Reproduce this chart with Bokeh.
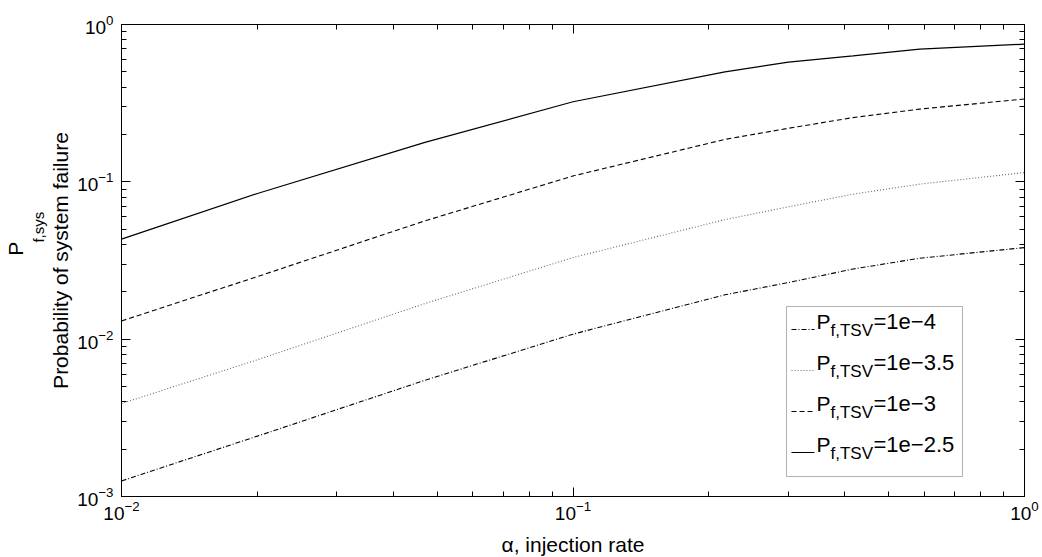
import math
from bokeh.plotting import figure
from bokeh.models import (FixedTicker, LogAxis, LinearAxis, Label, Range1d, LogTickFormatter,
                          BoxAnnotation, Arrow)
from bokeh.embed import file_html
from bokeh.resources import INLINE

# ---------------- data ----------------
alpha = [0.01, 0.02, 0.047, 0.1, 0.217, 0.30, 0.417, 0.586, 1.0]
pf_25 = [0.0432, 0.0843, 0.178, 0.323, 0.500, 0.577, 0.632, 0.698, 0.750]
pf_30 = [0.01306, 0.0250, 0.0565, 0.109, 0.186, 0.219, 0.256, 0.290, 0.336]
pf_35 = [0.0039, 0.0074, 0.01684, 0.0330, 0.0575, 0.0694, 0.0835, 0.0967, 0.1146]
pf_40 = [0.001256, 0.00242, 0.00548, 0.01076, 0.01914, 0.0229, 0.0279, 0.0327, 0.0382]

legend_values = ["=1e\u22124", "=1e\u22123.5", "=1e\u22123", "=1e\u22122.5"]

x_ticks = [0.01, 0.1, 1.0]
y_ticks = [0.001, 0.01, 0.1, 1.0]

FONT = "Liberation Sans"
NB = "\u00a0"

# line styles: (colour, width, dash) for 1e-4, 1e-3.5, 1e-3, 1e-2.5
styles = [("black", 1.1, "5 2 1 2"), ("#666666", 1.1, "1 2"),
          ("black", 1.1, "5 3"), ("black", 1.2, "solid")]

# ---------------- figure ----------------
FL, FB = 117, 496  # frame left / bottom in picture pixels
p = figure(x_axis_type="log", y_axis_type="log",
           x_range=Range1d(0.01, 1.0), y_range=Range1d(0.001, 1.0),
           frame_width=903, frame_height=472,
           min_border_left=117, min_border_right=22, min_border_top=24, min_border_bottom=61,
           output_backend="svg", toolbar_location=None)
p.grid.visible = False
p.outline_line_color = "black"
p.outline_line_width = 1

def decade_minors(lo, hi):
    out = []
    d = lo
    while d < hi:
        for k in range(2, 10):
            out.append(k * 10.0 ** d)
        d += 1
    return out

xt = FixedTicker(ticks=x_ticks, minor_ticks=decade_minors(-2, 0))
yt = FixedTicker(ticks=y_ticks, minor_ticks=decade_minors(-3, 0))

right_ax = LogAxis(major_label_overrides={t: "" for t in y_ticks})
top_ax = LogAxis(major_label_overrides={t: "" for t in x_ticks})
p.add_layout(right_ax, "right")
p.add_layout(top_ax, "above")

for ax in p.xaxis:
    ax.ticker = xt
for ax in p.yaxis:
    ax.ticker = yt
for ax in p.xaxis + p.yaxis:
    ax.formatter = LogTickFormatter()
    ax.axis_line_color = "black"
    ax.major_tick_line_color = "black"
    ax.minor_tick_line_color = "black"
    ax.major_tick_in = 9
    ax.major_tick_out = 0
    ax.minor_tick_in = 5
    ax.minor_tick_out = 0
    ax.major_label_text_font = FONT
    ax.major_label_text_font_size = "19px"
    ax.major_label_text_color = "black"
for ax in (right_ax, top_ax):
    ax.major_label_standoff = 0

bottom_ax = p.below[0]
left_ax = p.left[0]
bottom_ax.major_label_standoff = 4
left_ax.major_label_standoff = 8

bottom_ax.axis_label = "\u03b1, injection rate"
bottom_ax.axis_label_standoff = 10
bottom_ax.axis_label_text_font = FONT
bottom_ax.axis_label_text_font_size = "21px"
bottom_ax.axis_label_text_font_style = "normal"
bottom_ax.axis_label_text_color = "black"

left_ax.axis_label = "Probability of system failure"
left_ax.axis_label_standoff = 2
left_ax.axis_label_text_font = FONT
left_ax.axis_label_text_font_size = "21px"
left_ax.axis_label_text_font_style = "normal"
left_ax.axis_label_text_color = "black"

# first line of the y title, P with subscript f,sys, as two bare extra axis titles
def title_axis(text, size):
    ax = LinearAxis(ticker=FixedTicker(ticks=[]), axis_line_color=None,
                    major_tick_line_color=None, minor_tick_line_color=None,
                    major_tick_in=0, major_tick_out=0, minor_tick_in=0, minor_tick_out=0,
                    major_label_standoff=0, major_label_text_font_size="1px",
                    axis_label=text, axis_label_standoff=0,
                    axis_label_text_font=FONT, axis_label_text_font_size=size,
                    axis_label_text_font_style="normal", axis_label_text_color="black")
    p.add_layout(ax, "left")

title_axis(NB * 16 + "f,sys", "15px")
title_axis(NB * 4 + "P", "21px")

# ---------------- curves ----------------
for ys, (col, w, dash) in zip((pf_40, pf_35, pf_30, pf_25), styles):
    p.line(alpha, ys, line_color=col, line_width=w, line_dash=dash)

# ---------------- legend (box, samples, texts) ----------------
p.add_layout(BoxAnnotation(left=782 - FL, right=958 - FL, bottom=FB - 476, top=FB - 306,
                           left_units="screen", right_units="screen",
                           bottom_units="screen", top_units="screen",
                           fill_color="white", fill_alpha=1.0,
                           line_color="black", line_width=1))

def lab(x, y, text, size, align="left"):
    p.add_layout(Label(x=x - FL, y=FB - y, x_units="screen", y_units="screen",
                       text=text, text_font=FONT, text_font_size=size,
                       text_color="black", text_align=align, text_baseline="middle"))

row_center = [321, 362, 403, 444]
for c, val, (col, w, dash) in zip(row_center, legend_values, styles):
    p.add_layout(Arrow(start=None, end=None,
                       x_start=787 - FL, x_end=810 - FL, y_start=FB - (c + 8), y_end=FB - (c + 8),
                       start_units="screen", end_units="screen",
                       line_color=col, line_width=w, line_dash=dash))
    lab(812, c, "P", "21px")
    lab(826, c + 9, "f,TSV", "17px")
    lab(869, c, val, "22px")

open("out.html", "w").write(file_html(p, INLINE))
